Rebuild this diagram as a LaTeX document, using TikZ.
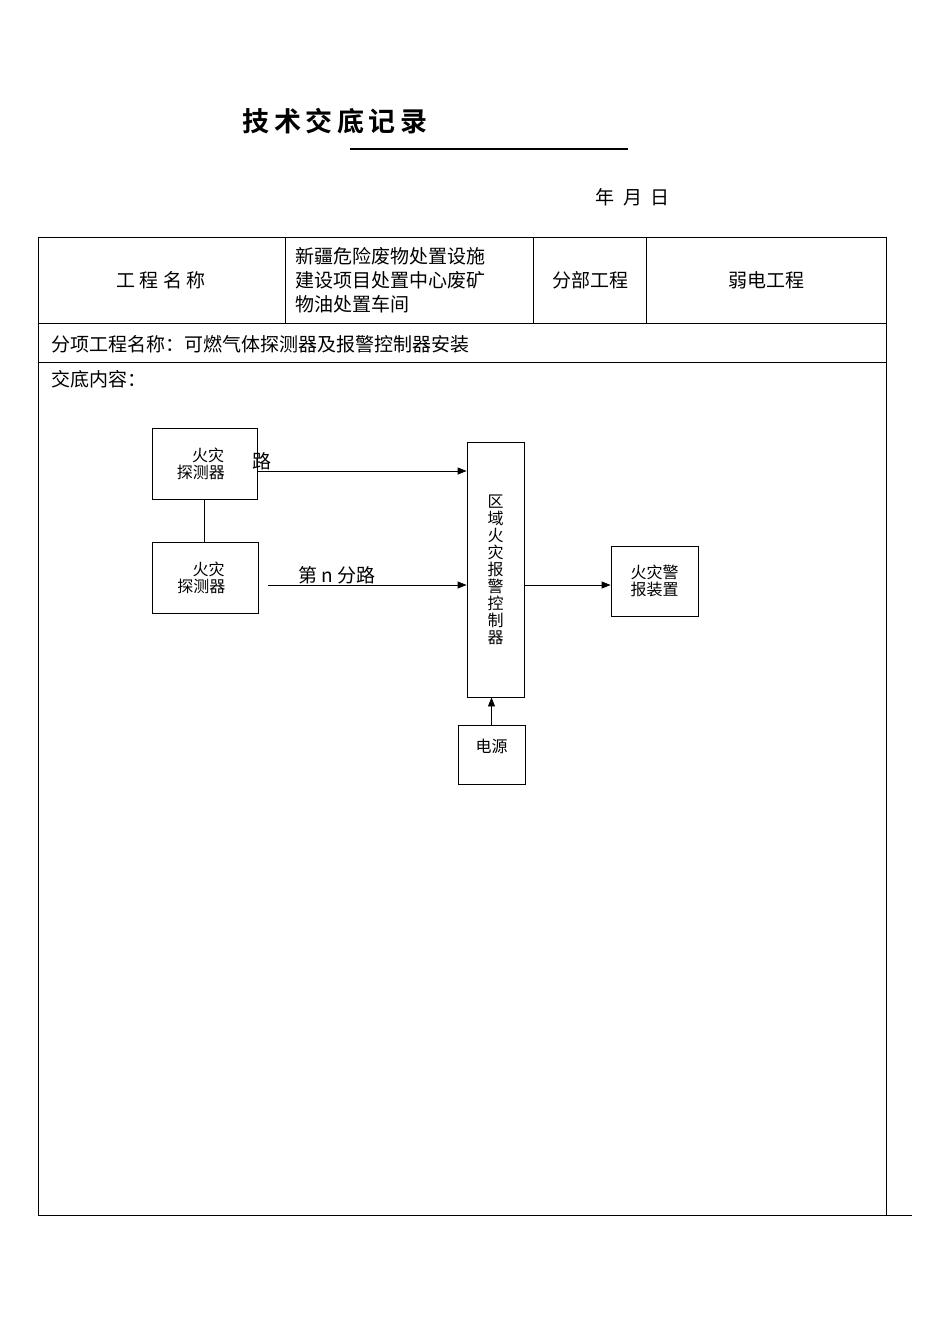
\documentclass[tikz,border=0pt]{standalone}
\usepackage{fontspec}
\newfontfamily\cjk{Noto Sans CJK SC}
\newfontfamily\cjkb{Noto Sans CJK SC Bold}
\usetikzlibrary{arrows.meta}
\begin{document}
\begin{tikzpicture}[x=1pt,y=-1pt,
  every node/.style={font=\cjk},
  line/.style={line width=0.8pt},
  arr/.style={line width=0.8pt,-{Triangle[length=9pt,width=7pt]}},
  tbl/.style={font=\cjk\fontsize{19}{24}\selectfont},
  dia/.style={font=\cjk\fontsize{16}{17}\selectfont}]
\useasboundingbox (0,0) rectangle (950,1342);
\node[font=\cjkb\fontsize{27}{30}\selectfont] (title) at (335,121) {技\,术\,交\,底\,记\,录};
\draw[line width=1.2pt] (350,149) coordinate (u1) -- (628,149) coordinate (u2);
\node[font=\cjk\fontsize{19}{22}\selectfont] (date) at (633,197) {年\ \ 月\ \ 日};
% table
\draw[line] (38,237) rectangle (886,1215);
\draw[line] (38,323) -- (886,323);
\draw[line] (38,362) -- (886,362);
\draw[line] (285,237) -- (285,323);
\draw[line] (533,237) -- (533,323);
\draw[line] (646,237) -- (646,323);
\draw[line width=0.5pt] (886,1215) -- (912,1215);
\node[tbl] (c1) at (161,280) {工\ 程\ 名\ 称};
\node[tbl,align=left,anchor=west] (c2) at (292,280) {新疆危险废物处置设施\\建设项目处置中心废矿\\物油处置车间};
\node[tbl] (c3) at (590,280) {分部工程};
\node[tbl] (c4) at (766,280) {弱电工程};
\node[tbl,anchor=west] (r2) at (48,344) {分项工程名称：可燃气体探测器及报警控制器安装};
\node[tbl,anchor=west] (r3) at (48,379) {交底内容：};
% diagram
\node[dia,draw,line,minimum width=105pt,minimum height=71pt,align=center] (d1) at (204.5,463.5) {\ \ 火灾\\探测器\ \ \ };
\node[dia,draw,line,minimum width=106pt,minimum height=71pt,align=center] (d2) at (205,577.5) {\ \ 火灾\\探测器\ \ \ };
\draw[line] (d1.south) -- (d1.south |- d2.north);
\node[dia,draw,line,minimum width=57pt,minimum height=255pt,align=center,inner sep=0pt] (ctl) at (495.5,569.5) {区\\域\\火\\灾\\报\\警\\控\\制\\器};
\node[dia,draw,line,minimum width=87pt,minimum height=70pt,align=center] (al) at (654.5,581) {火灾警\\报装置};
\node[dia,draw,line,minimum width=67pt,minimum height=59pt,anchor=north] (pw) at (491.5,725) {};
\node[dia] (pwt) at (491.5,746) {电源};
\coordinate (a1s) at (d1.east |- 0,471);
\draw[arr] (a1s) -- (a1s -| ctl.west);
\node[font=\cjk\fontsize{19}{22}\selectfont] (l1) at (262,461) {路};
\coordinate (a2s) at (268,585);
\draw[arr] (a2s) -- (a2s -| ctl.west);
\node[font=\cjk\fontsize{19}{22}\selectfont] (l2) at (337,575) {第 n 分路};
\draw[arr] (ctl.east |- al.west) ++(0,4) coordinate (a3s) -- (a3s -| al.west);
\draw[arr] (pw.north) -- (pw.north |- ctl.south);
\end{tikzpicture}
\end{document}
